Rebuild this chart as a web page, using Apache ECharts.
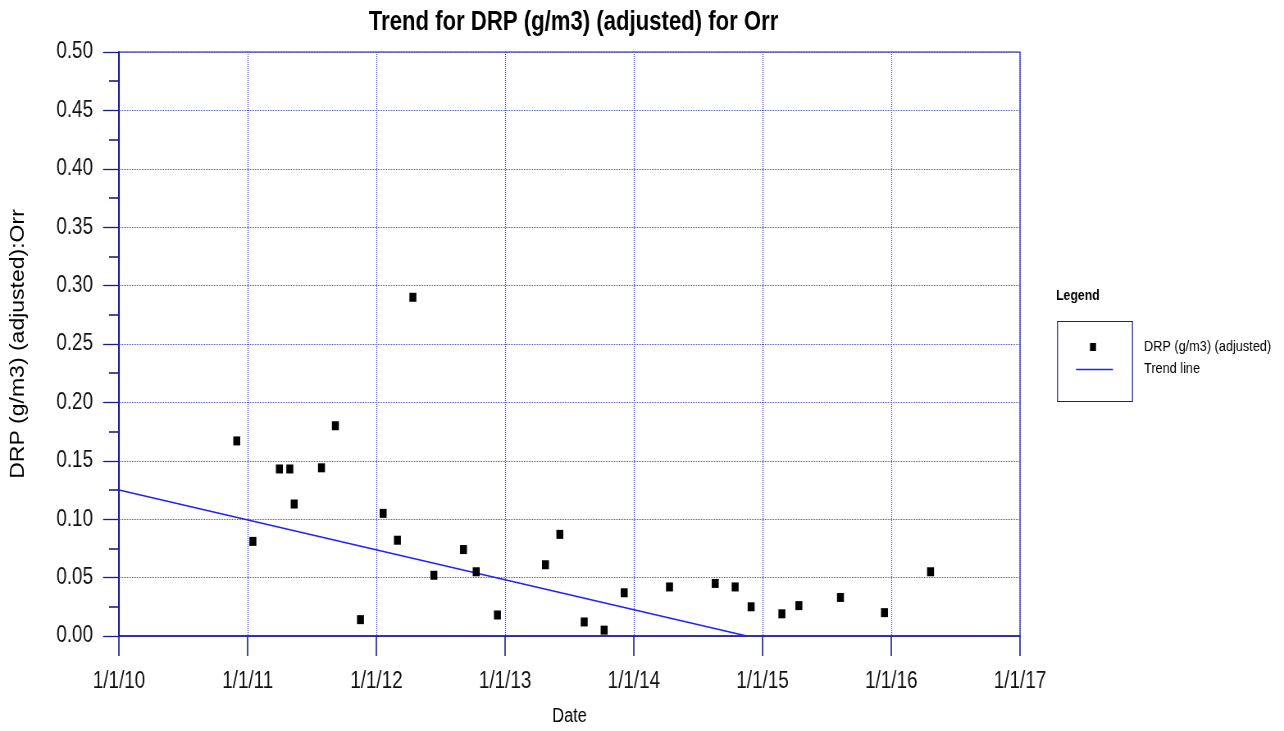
<!DOCTYPE html>
<html>
<head>
<meta charset="utf-8">
<script src="https://cdn.jsdelivr.net/npm/echarts@6/dist/echarts.min.js"></script>
<style>
html,body{margin:0;padding:0;background:#fff;overflow:hidden;}
#wrap{width:1284px;height:731px;overflow:hidden;position:relative;}
#chart{width:1566px;height:731px;transform:scaleX(0.819923);transform-origin:0 0;position:absolute;left:0;top:0;}
</style>
</head>
<body>
<div id="wrap"><div id="chart"></div></div>
<script>
// Sample dates as decimal years
const sampleYears = [2010.915, 2011.040, 2011.246, 2011.327, 2011.361, 2011.573, 2011.681, 2011.876,
  2012.052, 2012.163, 2012.283, 2012.446, 2012.676, 2012.775, 2012.940, 2013.313, 2013.425,
  2013.614, 2013.769, 2013.925, 2014.277, 2014.632, 2014.787, 2014.911, 2015.150, 2015.282,
  2015.605, 2015.947, 2016.305];
const drpValues = [0.167, 0.081, 0.143, 0.143, 0.113, 0.144, 0.180, 0.014,
  0.105, 0.082, 0.290, 0.052, 0.074, 0.055, 0.018, 0.061, 0.087,
  0.012, 0.005, 0.037, 0.042, 0.045, 0.042, 0.025, 0.019, 0.026,
  0.033, 0.020, 0.055];
const trendYears = [2010.0, 2014.878];
const trendValues = [0.125, 0.0];
const xTickYears = [2010, 2011, 2012, 2013, 2014, 2015, 2016, 2017];
const yTicks = [0.00, 0.05, 0.10, 0.15, 0.20, 0.25, 0.30, 0.35, 0.40, 0.45, 0.50];

// the chart is drawn wide and squeezed horizontally to get the narrow lettering
const S = 1284 / 1566;
const FONT = "'Liberation Sans', Arial, sans-serif";
const NAVY = '#1c1c8c';
const GRIDC = '#4a4ab8';

const chart = echarts.init(document.getElementById('chart'), null, {renderer: 'canvas'});
chart.setOption({
  animation: false,
  backgroundColor: '#fff',
  title: {
    text: 'Trend for DRP (g/m3) (adjusted) for Orr',
    left: 569.5 / S, top: 4, textAlign: 'center',
    textStyle: {fontFamily: FONT, fontWeight: 'bold', fontSize: 27, color: '#000'}
  },
  grid: {left: 119 / S, right: 264 / S, top: 52, bottom: 95, containLabel: false, outerBoundsMode: 'none',
    show: true, borderColor: NAVY, borderWidth: 1.2, backgroundColor: 'transparent'},
  xAxis: {
    type: 'value', min: xTickYears[0], max: xTickYears[xTickYears.length - 1], interval: 1,
    name: 'Date', nameLocation: 'middle', nameGap: 70,
    nameTextStyle: {fontFamily: FONT, fontSize: 20, color: '#000'},
    axisLine: {show: true, lineStyle: {color: NAVY, width: 1.5}},
    axisTick: {show: true, length: 20, lineStyle: {color: NAVY, width: 1.6}},
    axisLabel: {margin: 34, fontFamily: FONT, fontSize: 23, color: '#111',
      formatter: v => '1/1/' + String(Math.round(v) - 2000)},
    splitLine: {show: true, lineStyle: {color: GRIDC, type: [1, 1], width: 1.2}}
  },
  yAxis: {
    type: 'value', min: yTicks[0], max: yTicks[yTicks.length - 1], interval: 0.05,
    name: 'DRP (g/m3) (adjusted):Orr', nameLocation: 'middle', nameGap: 111, nameRotate: 90,
    nameTextStyle: {fontFamily: FONT, fontSize: 23, color: '#000'},
    axisLine: {show: true, lineStyle: {color: NAVY, width: 1.9}},
    axisTick: {show: true, length: 16 / S, lineStyle: {color: NAVY, width: 1.3}},
    minorTick: {show: true, splitNumber: 2, length: 10 / S, lineStyle: {color: NAVY, width: 1.6}},
    axisLabel: {margin: 26 / S, fontFamily: FONT, fontSize: 23, color: '#111',
      formatter: v => v.toFixed(2)},
    splitLine: {show: true, lineStyle: {color: GRIDC, type: [1, 1], width: 1}}
  },
  graphic: [
    {type: 'text', left: 1056 / S, top: 288, style: {text: 'Legend', font: "bold 15px " + FONT, fill: '#000'}},
    {type: 'rect', shape: {x: 1057.5 / S, y: 321.5, width: 75 / S, height: 80}, style: {fill: 'none', stroke: NAVY, lineWidth: 1.2}},
    {type: 'rect', shape: {x: 1090 / S, y: 343, width: 6 / S, height: 8}, style: {fill: '#000'}},
    {type: 'line', shape: {x1: 1076 / S, y1: 369.5, x2: 1113 / S, y2: 369.5}, style: {stroke: '#2222ff', lineWidth: 1.4}},
    {type: 'text', left: 1144 / S, top: 339, style: {text: 'DRP (g/m3) (adjusted)', font: "15.5px " + FONT, fill: '#000'}},
    {type: 'text', left: 1144 / S, top: 361, style: {text: 'Trend line', font: "15.5px " + FONT, fill: '#000'}}
  ],
  series: [
    {
      name: 'Trend line', type: 'line', symbol: 'none', z: 2,
      data: trendYears.map((x, i) => [x, trendValues[i]]),
      lineStyle: {color: '#1f1fff', width: 1.5}
    },
    {
      name: 'DRP (g/m3) (adjusted)', type: 'scatter', symbol: 'rect', symbolSize: [8.5, 9], z: 3,
      data: sampleYears.map((x, i) => [x, drpValues[i]]),
      itemStyle: {color: '#000', opacity: 1}
    }
  ]
});
</script>
</body>
</html>
